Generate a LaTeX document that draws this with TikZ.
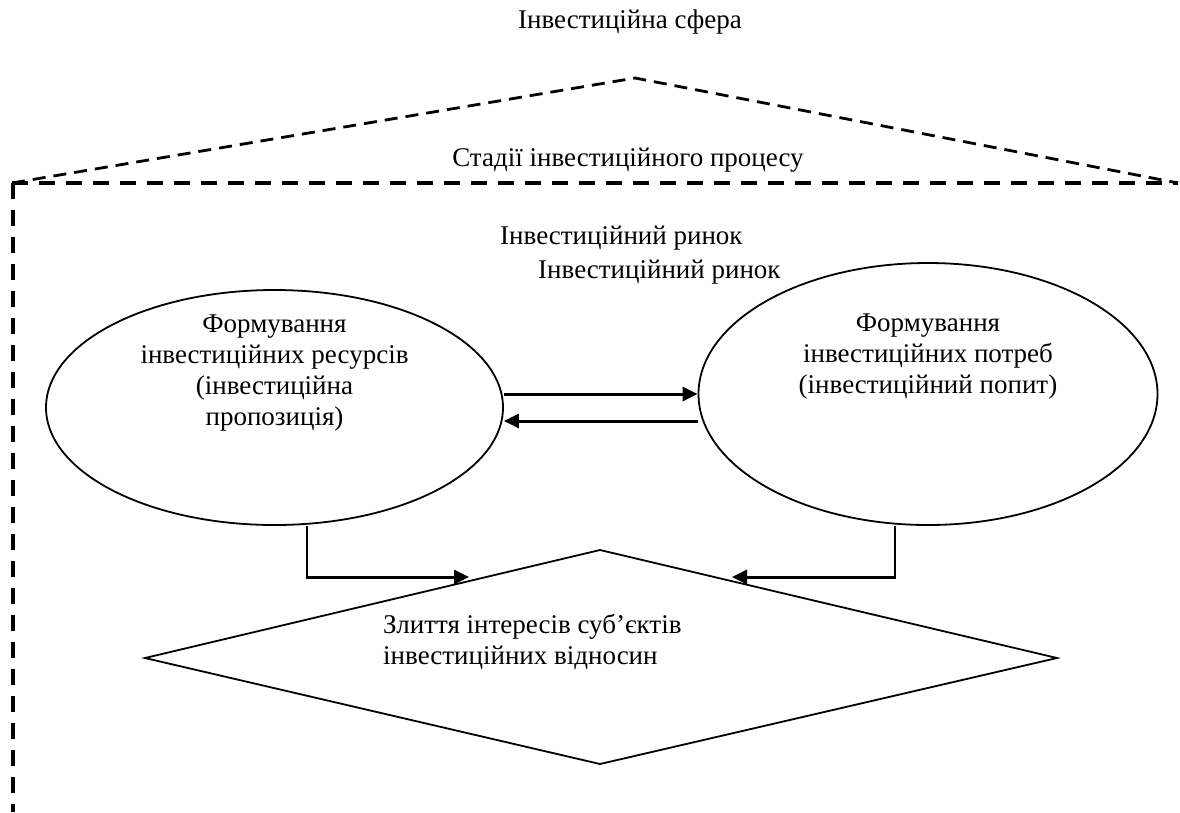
\documentclass[tikz,border=0pt]{standalone}
\usepackage{fontspec}
\setmainfont{Liberation Serif}
\usetikzlibrary{shapes.geometric,arrows.meta}
\begin{document}
\begin{tikzpicture}[x=1pt,y=-1pt,
  lbl/.style={font=\fontsize{27}{31}\selectfont, inner sep=0pt},
  oval/.style={ellipse, draw, line width=1.8pt, inner sep=0pt},
  roofline/.style={line width=2.8pt, dash pattern=on 13pt off 8pt},
  wallline/.style={line width=4pt, dash pattern=on 16pt off 11pt},
  tip/.style={-{Triangle[length=15pt,width=14pt]}},
  flow/.style={line width=3pt, tip},
  drop/.style={line width=2pt},
  feed/.style={line width=3pt, tip},
  rhomb/.style={line width=1.8pt, line join=miter}
]
\useasboundingbox (0,0) rectangle (1180,812);

% house outline: roof, eaves line and left wall
\coordinate (eaveL) at (12,183);
\coordinate (eaveR) at (1178,183);
\coordinate (ridge) at (635,78);
\coordinate (wallTop) at (13,183);
\coordinate (wallBot) at (13,812);
\draw[roofline] (eaveL) -- (ridge) -- (eaveR);
\draw[wallline] (eaveL) -- (eaveR);
\draw[wallline] (wallTop) -- (wallBot);

\node[lbl] (sphere) at (630,22) {Інвестиційна сфера};
\node[lbl] (stages) at (628,160) {Стадії інвестиційного процесу};
\node[lbl, anchor=west] (market1) at (500,238) {Інвестиційний ринок};
\node[lbl, anchor=west] (market2) at (538,272) {Інвестиційний ринок};

% supply and demand ovals
\node[oval, minimum width=457pt, minimum height=235pt] (L) at (274.5,407.5) {};
\node[oval, minimum width=459pt, minimum height=262pt] (R) at (928,394) {};
\node[lbl, align=center] (Ltext) at (274.5,373) {Формування\\інвестиційних ресурсів\\(інвестиційна\\пропозиція)};
\node[lbl, align=center] (Rtext) at (928,357) {Формування\\інвестиційних потреб\\(інвестиційний попит)};

\draw[flow] ([yshift=13.5pt]L.east) -- (R.west);
\draw[flow] ([yshift=-27pt]R.west) -- ([yshift=-13.5pt]L.east);

% merging of interests
\coordinate (dt) at (600,550);
\coordinate (dr) at (1057,658);
\coordinate (db) at (600,764);
\coordinate (dl) at (145,658);
\draw[rhomb] (dt) -- (dr) -- (db) -- (dl) -- cycle;
\node[lbl, anchor=west, align=left] (Dtext) at (383,642) {Злиття інтересів суб’єктів\\інвестиційних відносин};

% feeds from both ovals into the merging rhombus
\coordinate (inL) at (469,577);
\coordinate (inR) at (732,577);
\coordinate (outL) at ([xshift=32.5pt]L.south);
\coordinate (outR) at ([xshift=-33pt]R.south);
\coordinate (bendL) at (outL |- inL);
\coordinate (bendR) at (outR |- inR);
\draw[drop] (outL) -- (bendL);
\draw[drop] (outR) -- (bendR);
\draw[feed] ([xshift=-1pt]bendL) -- (inL);
\draw[feed] ([xshift=1pt]bendR) -- (inR);
\end{tikzpicture}
\end{document}
